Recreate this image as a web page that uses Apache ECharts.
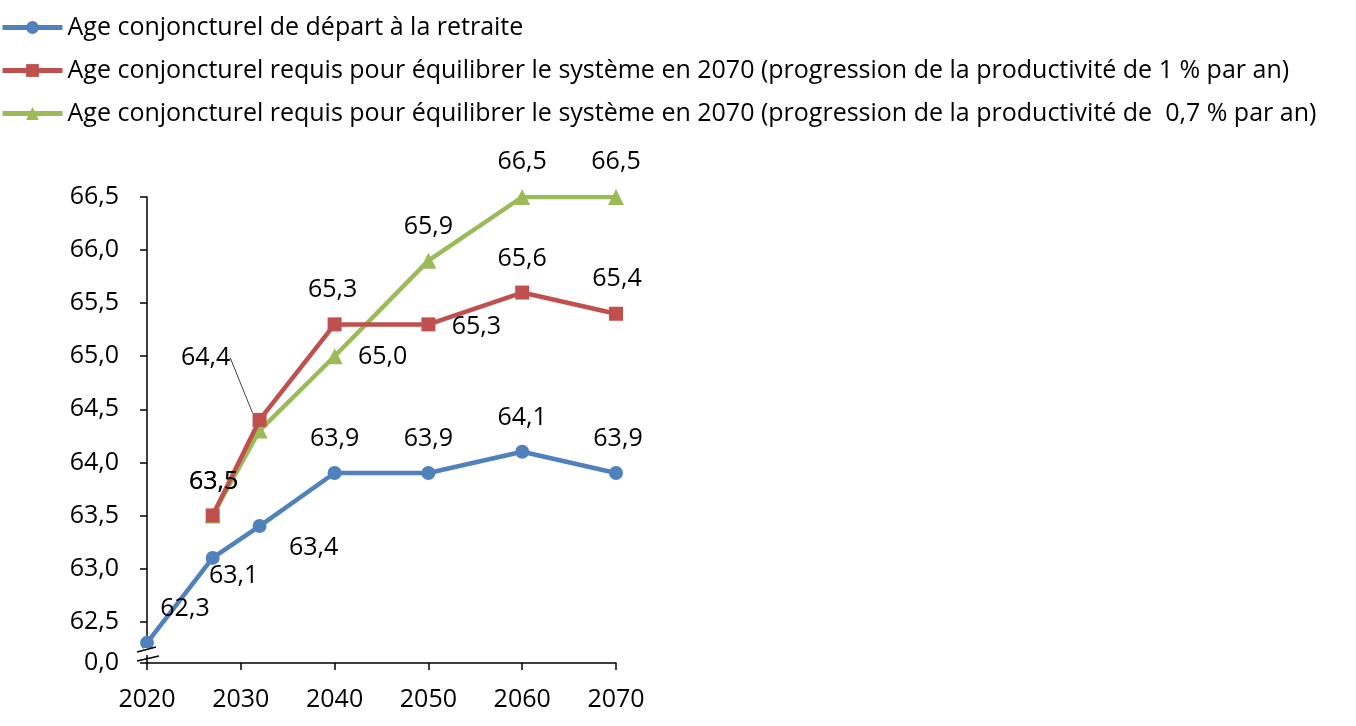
<!DOCTYPE html>
<html>
<head>
<meta charset="utf-8">
<script src="https://cdn.jsdelivr.net/npm/echarts@6/dist/echarts.min.js"></script>
<style>html,body{margin:0;padding:0;background:#fff}#c{width:1356px;height:726px}</style>
</head>
<body>
<div id="c"></div>
<script>
var seriesNames = [
  'Age conjoncturel de départ à la retraite',
  'Age conjoncturel requis pour équilibrer le système en 2070 (progression de la productivité de 1 % par an)',
  'Age conjoncturel requis pour équilibrer le système en 2070 (progression de la productivité de  0,7 % par an)'
];
var years = [2020, 2027, 2032, 2040, 2050, 2060, 2070];
var depart = [62.3, 63.1, 63.4, 63.9, 63.9, 64.1, 63.9];
var requis1 = [null, 63.5, 64.4, 65.3, 65.3, 65.6, 65.4];
var requis07 = [null, 63.5, 64.3, 65.0, 65.9, 66.5, 66.5];
var yTicks = [62.11, 62.5, 63.0, 63.5, 64.0, 64.5, 65.0, 65.5, 66.0, 66.5];

// label offsets (styling)
var offBlue = [[38,-34],[21,18],[54,22],[0,-34],[0,-34],[0,-34],[2,-34]];
var offRed = [null,[1,-34],[-54,-62],[-2,-35],[48,2],[0,-34],[1,-35]];
var offGreen = [null,[1,-34],null,[48,1],[0,-34],[0,-35],[0,-35]];

var FONT = 'Open Sans';
var FS = 25;
function fmt(v){ return v.toFixed(1).replace('.', ','); }
function build(vals, offs){
  return vals.map(function(v,i){
    if (v === null) return [years[i], null];
    var item = {value:[years[i], v]};
    if (!offs[i]) item.label = {show:false};
    item.labelLine = {show: false};
    return item;
  });
}
var colors = ['#4F81BD','#C0504D','#9BBB59'];
var symbols = ['circle','rect','triangle'];
var sizes = [14,14,16];
var offsets = [offBlue, offRed, offGreen];
var datas = [depart, requis1, requis07];

var series = datas.map(function(d,k){
  var offs = offsets[k];
  var s = {
    name: seriesNames[k],
    type:'line',
    data: build(d, offs),
    symbol: symbols[k],
    symbolSize: sizes[k],
    showAllSymbol: true,
    connectNulls: false,
    lineStyle:{color:colors[k], width:4.5},
    itemStyle:{color:colors[k]},
    z: 5 - k,
    label:{
      show:true, position:'inside', color:'#000', fontFamily:FONT, fontSize:FS,
      formatter: function(p){ return fmt(p.value[1]); }
    },
    labelLayout: function(p){
      var o = offs[p.dataIndex];
      return o ? {dx:o[0], dy:o[1]} : {};
    },
    emphasis:{disabled:true},
    animation:false
  };
  if (k === 1) {
    s.labelLine = {show:true, lineStyle:{color:'#404040', width:1}, smooth:false};
    s.data[2].labelLine = {show:true};
  }
  return s;
});

var chart = echarts.init(document.getElementById('c'), null, {renderer:'canvas'});
chart.setOption({
  animation:false,
  color: colors,
  legend:{
    orient:'vertical', left:0, top:15, padding:0,
    itemWidth:60, itemHeight:16, itemGap:18,
    lineStyle:{width:5},
    textStyle:{fontFamily:FONT, fontSize:FS, color:'#000', padding:[0,0,0,0]},
    data: seriesNames
  },
  grid:{left:147, right:740, top:197, bottom:63, containLabel:false},
  xAxis:{
    type:'value', min:2020, max:2070, interval:10,
    axisLine:{show:true, onZero:false, lineStyle:{color:'#000', width:1.5}},
    axisTick:{show:true, length:7, lineStyle:{color:'#000', width:1.5}},
    axisLabel:{fontFamily:FONT, fontSize:FS, color:'#000', margin:24,
      formatter:function(v){return String(v);}},
    splitLine:{show:false}
  },
  yAxis:{
    type:'value', min:62.11, max:66.5,
    axisLine:{show:true, lineStyle:{color:'#000', width:1.5}},
    axisTick:{show:true, length:7, customValues: yTicks, lineStyle:{color:'#000', width:1.5}},
    axisLabel:{fontFamily:FONT, fontSize:FS, color:'#000', margin:28, customValues: yTicks,
      formatter:function(v){ return v < 62.3 ? '0,0' : fmt(v); }},
    splitLine:{show:false}
  },
  series: series
});

// axis break marker
var p0 = chart.convertToPixel({gridIndex:0}, [2020, 62.11]);
var bx = p0[0], by = p0[1];
chart.setOption({
  graphic:[
    {type:'rect', shape:{x:bx-3, y:by-15, width:6, height:7}, style:{fill:'#fff'}, z:10},
    {type:'line', shape:{x1:bx-10, y1:by-11, x2:bx+9, y2:by-16}, style:{stroke:'#000', lineWidth:1.5}, z:11},
    {type:'line', shape:{x1:bx-10, y1:by-2, x2:bx+12, y2:by-7}, style:{stroke:'#000', lineWidth:1.5}, z:11}
  ]
});
</script>
</body>
</html>
